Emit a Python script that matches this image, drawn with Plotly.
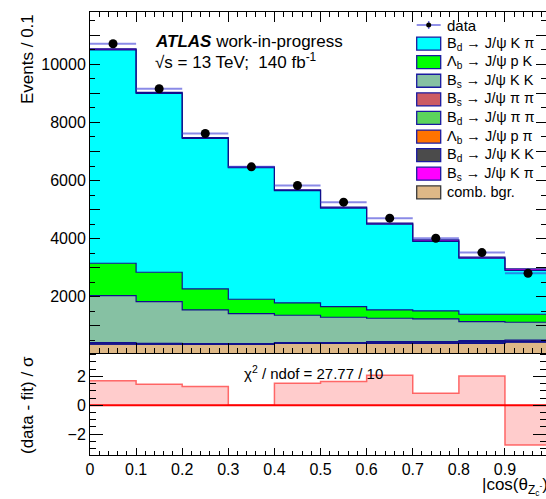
import plotly.graph_objects as go

# ---------------- data ----------------
bin_edges = [0.0, 0.1, 0.2, 0.3, 0.4, 0.5, 0.6, 0.7, 0.8, 0.9, 1.0]
bin_centers = [0.05, 0.15, 0.25, 0.35, 0.45, 0.55, 0.65, 0.75, 0.85, 0.95]

data_events = [10713, 9161, 7620, 6472, 5827, 5254, 4703, 4013, 3517, 2807]

# fit components, listed bottom of the stack first
comb_bgr = [359, 359, 359, 359, 393, 393, 393, 393, 393, 428]
bd_jpsi_kk = [12, 7, 4, 4, 4, 4, 12, 12, 20, 17]
lb_jpsi_ppi = [10, 6, 4, 4, 4, 4, 10, 10, 15, 14]
bd_jpsi_pipi = [15, 9, 5, 5, 6, 6, 15, 15, 25, 22]
bs_jpsi_pipi = [18, 12, 7, 7, 7, 7, 18, 18, 30, 26]
bs_jpsi_kk = [1620, 1434, 1162, 1035, 945, 876, 807, 783, 655, 610]
lb_jpsi_pk = [1117, 1014, 724, 496, 424, 365, 286, 276, 255, 276]
bd_jpsi_kpi = [7349, 6163, 5187, 4537, 3866, 3397, 2955, 2398, 1930, 1507]
bs_jpsi_kpi = [40, 30, 30, 25, 30, 30, 35, 50, 35, 55]

# (data - fit) / sigma per bin
pulls = [1.69, 1.46, 1.29, 0.0, 1.53, 1.64, 2.08, 0.83, 2.03, -2.76]
chi2_value = "27.77"
ndof_value = "10"

x_tick_vals = [0.0, 0.1, 0.2, 0.3, 0.4, 0.5, 0.6, 0.7, 0.8, 0.9]
x_tick_text = ["0", "0.1", "0.2", "0.3", "0.4", "0.5", "0.6", "0.7", "0.8", "0.9"]
y_tick_vals = [0, 1000, 2000, 3000, 4000, 5000, 6000, 7000, 8000, 9000, 10000, 11000]
y_tick_text = ["", "", "2000", "", "4000", "", "6000", "", "8000", "", "10000", ""]
pull_tick_vals = [-2, 0, 2]
pull_tick_text = ["\u22122", "0", "2"]

# stack (bottom -> top): name, fill colour
stack = [
    ("comb", comb_bgr, "#DEB887"),
    ("bdkk", bd_jpsi_kk, "#4B4B4B"),
    ("lbppi", lb_jpsi_ppi, "#FF7300"),
    ("bdpipi", bd_jpsi_pipi, "#5CD55C"),
    ("bspipi", bs_jpsi_pipi, "#CC5C64"),
    ("bskk", bs_jpsi_kk, "#86C1A3"),
    ("lbpk", lb_jpsi_pk, "#00FF00"),
    ("bdkpi", bd_jpsi_kpi, "#00FFFF"),
    ("bskpi", bs_jpsi_kpi, "#FF00FF"),
]

# legend entries, top to bottom
legend_entries = [
    ("B<sub>d</sub> \u2192 J/\u03c8 K \u03c0", "#00FFFF", "#1A1AA0"),
    ("\u039b<sub>b</sub> \u2192 J/\u03c8 p K", "#00FF00", "#1A1AA0"),
    ("B<sub>s</sub> \u2192 J/\u03c8 K K", "#86C1A3", "#1A1AA0"),
    ("B<sub>s</sub> \u2192 J/\u03c8 \u03c0 \u03c0", "#CC5C64", "#1A1AA0"),
    ("B<sub>d</sub> \u2192 J/\u03c8 \u03c0 \u03c0", "#5CD55C", "#1A1AA0"),
    ("\u039b<sub>b</sub> \u2192 J/\u03c8 p \u03c0", "#FF7300", "#1A1AA0"),
    ("B<sub>d</sub> \u2192 J/\u03c8 K K", "#4B4B4B", "#1A1AA0"),
    ("B<sub>s</sub> \u2192 J/\u03c8 K \u03c0", "#FF00FF", "#1A1AA0"),
    ("comb. bgr.", "#DEB887", "#3A3A3A"),
]

# ---------------- layout geometry ----------------
W, H = 546, 499
ML, MR, MT, MB = 90, 0, 12, 44
PW, PH = W - ML - MR, H - MT - MB
split = (H - MB - 353.3) / PH          # boundary between the two pads

FONT = "Liberation Sans, Arial, sans-serif"
OUTLINE = "#10108C"


def px_x(x):
    return (x - ML) / PW


def px_y(y):
    return (H - MB - y) / PH


fig = go.Figure()

# stacked fit components as filled step histograms
running = [0.0] * len(bin_centers)
for i, (key, vals, col) in enumerate(stack):
    running = [r + v for r, v in zip(running, vals)]
    fig.add_trace(go.Scatter(
        x=bin_edges, y=running + [running[-1]],
        mode="lines", line=dict(shape="hv", color=OUTLINE, width=1.2),
        fill="tozeroy" if i == 0 else "tonexty", fillcolor=col,
        xaxis="x2", yaxis="y2", showlegend=False, hoverinfo="skip"))

# data points with bin-width horizontal bars
fig.add_trace(go.Scatter(
    x=bin_centers, y=data_events, mode="markers",
    marker=dict(color="black", size=9),
    error_x=dict(type="constant", value=0.05, color="rgba(60,60,215,0.6)",
                 thickness=2, width=0),
    xaxis="x2", yaxis="y2", showlegend=False))

# pulls panel
fig.add_trace(go.Scatter(
    x=bin_edges, y=pulls + [pulls[-1]], mode="lines",
    line=dict(shape="hv", color="rgba(255,60,60,0.75)", width=1.5),
    fill="tozeroy", fillcolor="rgba(255,0,0,0.2)",
    xaxis="x", yaxis="y", showlegend=False, hoverinfo="skip"))
fig.add_trace(go.Scatter(
    x=[bin_edges[0], bin_edges[-1]], y=[0, 0], mode="lines",
    line=dict(color="#FF0000", width=2.2),
    xaxis="x", yaxis="y", showlegend=False, hoverinfo="skip"))

axis_common = dict(showgrid=False, zeroline=False, showline=True,
                   linecolor="black", linewidth=1, ticks="inside",
                   tickcolor="black", tickwidth=1,
                   tickfont=dict(family=FONT, size=16, color="black"))

fig.update_layout(
    width=W, height=H,
    margin=dict(l=ML, r=MR, t=MT, b=MB, pad=0),
    paper_bgcolor="white", plot_bgcolor="white",
    showlegend=False,
    xaxis=dict(domain=[0, 1], anchor="y", range=[0, 0.989],
               tickmode="array", tickvals=x_tick_vals, ticktext=x_tick_text,
               ticklen=7, mirror=True,
               minor=dict(dtick=0.02, tick0=0, ticklen=4, ticks="inside",
                          tickcolor="black"),
               **axis_common),
    yaxis=dict(domain=[0, split], anchor="x", range=[-3.45, 3.6],
               tickmode="array", tickvals=pull_tick_vals, ticktext=pull_tick_text,
               ticklen=13, mirror="ticks",
               minor=dict(dtick=0.5, tick0=0, ticklen=6, ticks="inside",
                          tickcolor="black"),
               **axis_common),
    xaxis2=dict(domain=[0, 1], anchor="y2", matches="x", range=[0, 0.989],
                showticklabels=False, tickmode="array", tickvals=x_tick_vals,
                ticklen=10, mirror="ticks",
                minor=dict(dtick=0.02, tick0=0, ticklen=5, ticks="inside",
                           tickcolor="black"),
                **axis_common),
    yaxis2=dict(domain=[split, 1], anchor="x2", range=[48, 11806],
                tickmode="array", tickvals=y_tick_vals, ticktext=y_tick_text,
                ticklen=10, mirror="ticks",
                minor=dict(dtick=500, tick0=0, ticklen=5, ticks="inside",
                           tickcolor="black"),
                **axis_common),
)

ann = []
shapes = []

# axis titles
ann.append(dict(text="Events / 0.1", xref="paper", yref="paper",
                x=px_x(27), y=px_y(12), xanchor="center", yanchor="top",
                textangle=-90, showarrow=False,
                font=dict(family=FONT, size=17, color="black")))
ann.append(dict(text="(data - fit) / \u03c3", xref="paper", yref="paper",
                x=px_x(27), y=px_y(405), xanchor="center", yanchor="middle",
                textangle=-90, showarrow=False,
                font=dict(family=FONT, size=17, color="black")))
ann.append(dict(text="|cos(\u03b8<sub>Z<sub>c</sub><sup>-</sup></sub>)|",
                xref="paper", yref="paper",
                x=px_x(480), y=px_y(486), xanchor="left", yanchor="middle",
                showarrow=False, font=dict(family=FONT, size=17, color="black")))

# experiment label
ann.append(dict(text="<b><i>ATLAS</i></b> work-in-progress", xref="paper", yref="paper",
                x=px_x(153), y=px_y(41), xanchor="left", yanchor="middle",
                showarrow=False, font=dict(family=FONT, size=17, color="black")))
ann.append(dict(text="\u221as = 13 TeV;  140 fb<sup>-1</sup>", xref="paper", yref="paper",
                x=px_x(153), y=px_y(61), xanchor="left", yanchor="middle",
                showarrow=False, font=dict(family=FONT, size=17, color="black")))

# chi2 summary in the pull panel
ann.append(dict(text=f"\u03c7<sup>2</sup> / ndof = {chi2_value} / {ndof_value}",
                xref="x", yref="y", x=0.485, y=2.3, xanchor="center",
                yanchor="middle", showarrow=False,
                font=dict(family=FONT, size=15, color="black")))

# legend drawn by hand
leg_x0, leg_x1, leg_text_x = 416.7, 440.7, 445.0
row0, row_step = 25.0, 18.59
# data entry
shapes.append(dict(type="line", xref="paper", yref="paper",
                   x0=px_x(leg_x0), x1=px_x(leg_x1), y0=px_y(row0), y1=px_y(row0),
                   line=dict(color="rgba(60,60,215,0.75)", width=1.5)))
shapes.append(dict(type="line", xref="paper", yref="paper",
                   x0=px_x((leg_x0 + leg_x1) / 2), x1=px_x((leg_x0 + leg_x1) / 2),
                   y0=px_y(row0 - 4), y1=px_y(row0 + 4),
                   line=dict(color="rgba(60,60,215,0.75)", width=1.5)))
shapes.append(dict(type="circle", xref="paper", yref="paper",
                   x0=px_x((leg_x0 + leg_x1) / 2 - 2.5), x1=px_x((leg_x0 + leg_x1) / 2 + 2.5),
                   y0=px_y(row0 - 2.5), y1=px_y(row0 + 2.5),
                   fillcolor="black", line=dict(color="black", width=0)))
ann.append(dict(text="data", xref="paper", yref="paper",
                x=px_x(leg_text_x), y=px_y(row0), xanchor="left", yanchor="middle",
                showarrow=False, font=dict(family=FONT, size=15, color="black")))
for i, (label, fillc, linec) in enumerate(legend_entries):
    yc = row0 + row_step * (i + 1)
    shapes.append(dict(type="rect", xref="paper", yref="paper",
                       x0=px_x(leg_x0), x1=px_x(leg_x1),
                       y0=px_y(yc + 6.5), y1=px_y(yc - 6.5),
                       fillcolor=fillc, line=dict(color=linec, width=1.3)))
    ann.append(dict(text=label, xref="paper", yref="paper",
                    x=px_x(leg_text_x), y=px_y(yc), xanchor="left", yanchor="middle",
                    showarrow=False, font=dict(family=FONT, size=14.5, color="black")))

fig.update_layout(annotations=ann, shapes=shapes)
fig.write_html("out.html")
